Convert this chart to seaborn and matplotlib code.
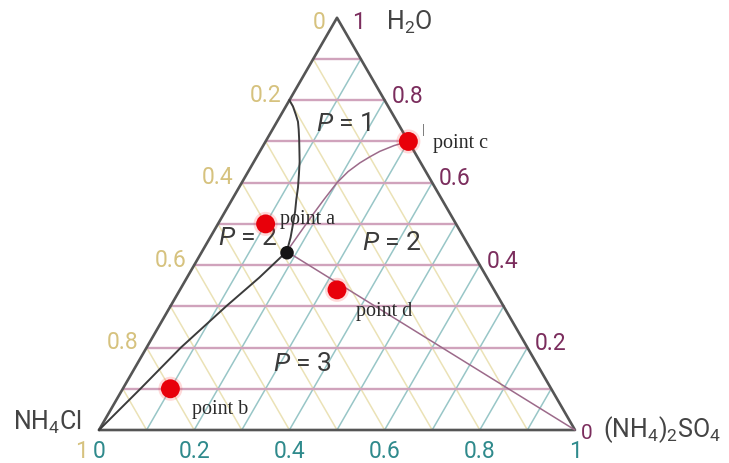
import numpy as np
import pandas as pd
import matplotlib
matplotlib.use("Agg")
import matplotlib.pyplot as plt
import seaborn as sns

# ---- data (mass fractions; NH4Cl = 1 - H2O - (NH4)2SO4) ----
point_names = ["point a", "point b", "point c", "point d"]
point_h2o = [0.50, 0.10, 0.70, 0.34]
point_as = [0.10, 0.10, 0.30, 0.33]

eutonic_h2o = [0.43]
eutonic_as = [0.18]

# liquidus of NH4Cl (from the binary H2O-NH4Cl edge to the eutonic point)
nh4cl_liq_h2o = [0.800, 0.785, 0.765, 0.748, 0.729, 0.705, 0.680, 0.651,
                 0.620, 0.588, 0.559, 0.530, 0.499, 0.467, 0.433]
nh4cl_liq_as = [0.000, 0.015, 0.031, 0.044, 0.055, 0.068, 0.081, 0.096,
                0.110, 0.124, 0.135, 0.147, 0.158, 0.169, 0.178]

# liquidus of (NH4)2SO4 (eutonic point to the H2O-(NH4)2SO4 edge)
as_liq_h2o = [0.433, 0.479, 0.523, 0.559, 0.600, 0.627, 0.648, 0.663,
              0.676, 0.690, 0.700]
as_liq_as = [0.178, 0.183, 0.188, 0.193, 0.200, 0.210, 0.224, 0.238,
             0.252, 0.275, 0.300]

# tie lines from the eutonic point to the pure solids
tie_cl_h2o = [0.00, 0.10, 0.20, 0.30, 0.37, 0.433]
tie_cl_as = [0.00, 0.037, 0.072, 0.117, 0.152, 0.178]
tie_as_h2o = [0.433, 0.00]
tie_as_as = [0.178, 1.00]

region_labels = ["P = 1", "P = 2", "P = 2", "P = 3"]
region_h2o = [0.745, 0.467, 0.455, 0.163]
region_as = [0.142, 0.079, 0.388, 0.346]

grid_fracs = [0.1, 0.2, 0.3, 0.4, 0.5, 0.6, 0.7, 0.8, 0.9]
tick_fracs = [0.0, 0.2, 0.4, 0.6, 0.8, 1.0]
tick_labels = ["0", "0.2", "0.4", "0.6", "0.8", "1"]

SQ = np.sqrt(3) / 2


def to_xy(h2o, am_sulf):
    h = np.asarray(h2o, dtype=float)
    s = np.asarray(am_sulf, dtype=float)
    return s + h / 2, h * SQ


sns.set_theme(style="white")
plt.rcParams["font.family"] = ["Roboto", "DejaVu Sans"]
plt.rcParams["mathtext.fontset"] = "custom"
plt.rcParams["mathtext.rm"] = "Roboto"
plt.rcParams["mathtext.it"] = "Roboto:italic"

fig = plt.figure(figsize=(7.29, 4.64), dpi=100)
ax = fig.add_axes([0, 0, 1, 1])
ax.set_xlim(-99 / 476, 630 / 476)
ax.set_ylim(-33 / 476, 431 / 476)
ax.axis("off")

C_CL = "#d6c27e"     # NH4Cl axis
C_H2O = "#7b2d5d"    # H2O axis
C_AS = "#2f8a8c"     # (NH4)2SO4 axis
C_EDGE = "#555555"
C_TXT = "#444444"
TICK_FS = 16.5


def grid_frame(kind):
    rows = []
    for i, f in enumerate(grid_fracs):
        if kind == "h2o":
            hs = [f, f]; ss = [0.0, 1 - f]
        elif kind == "as":
            hs = [0.0, 1 - f]; ss = [f, f]
        else:  # constant NH4Cl
            hs = [1 - f, 0.0]; ss = [0.0, 1 - f]
        x, y = to_xy(hs, ss)
        for xx, yy in zip(x, y):
            rows.append({"id": i, "x": xx, "y": yy})
    return pd.DataFrame(rows)


for kind, col, lw in [("cl", "#ebe2b6", 1.1), ("as", "#98c6c7", 1.1),
                      ("h2o", "#d0a3bc", 1.7)]:
    sns.lineplot(data=grid_frame(kind), x="x", y="y", units="id",
                 estimator=None, sort=False, color=col, linewidth=lw,
                 ax=ax, legend=False)

# triangle outline
ex, ey = to_xy([0, 0, 1, 0], [0, 1, 0, 0])
sns.lineplot(x=ex, y=ey, sort=False, estimator=None, color=C_EDGE,
             linewidth=1.9, ax=ax)

# phase boundaries
for hh, ss, col, lw in [(nh4cl_liq_h2o, nh4cl_liq_as, "#3b3b3b", 1.4),
                        (tie_cl_h2o, tie_cl_as, "#3b3b3b", 1.4),
                        (as_liq_h2o, as_liq_as, "#9c6a8a", 1.1),
                        (tie_as_h2o, tie_as_as, "#9c6a8a", 1.1)]:
    x, y = to_xy(hh, ss)
    sns.lineplot(x=x, y=y, sort=False, estimator=None, color=col,
                 linewidth=lw, ax=ax)

# eutonic point
x, y = to_xy(eutonic_h2o, eutonic_as)
sns.scatterplot(x=x, y=y, s=95, color="#151515", edgecolor="none",
                ax=ax, zorder=6)

# composition points with a soft halo
px, py = to_xy(point_h2o, point_as)
sns.scatterplot(x=px, y=py, s=300, color="#ff3030", alpha=0.18,
                edgecolor="none", ax=ax, zorder=6)
sns.scatterplot(x=px, y=py, s=185, color="#e8000a", edgecolor="none",
                ax=ax, zorder=7)

label_offsets = {"point a": (14, 1), "point b": (22, -24),
                 "point c": (25, -6), "point d": (19, -25)}
for name, x, y in zip(point_names, px, py):
    ax.annotate(name, (x, y), xytext=label_offsets[name],
                textcoords="offset pixels", ha="left", va="baseline",
                fontsize=14.5, family="Liberation Serif", color="#2a2a2a")
ax.annotate("|", (px[2], py[2]), xytext=(15, 12), textcoords="offset pixels",
            ha="center", va="center", fontsize=9,
            family="Liberation Serif", color="#333333")

# region labels
rx, ry = to_xy(region_h2o, region_as)
for lab, x, y in zip(region_labels, rx, ry):
    ax.text(x, y, lab.replace("P", "$P$", 1), ha="center", va="center",
            fontsize=19, color="#3a3a3a")

# axis tick labels
for f, lab in zip(tick_fracs, tick_labels):
    # NH4Cl along the left edge
    x, y = to_xy([1 - f], [0.0])
    if f == 1.0:
        ax.annotate(lab, (x[0], y[0]), xytext=(-11, -32.5),
                    textcoords="offset pixels", ha="right", va="bottom",
                    fontsize=TICK_FS, color=C_CL)
    else:
        off = (-12, -4) if f == 0.0 else (-8, 6)
        ax.annotate(lab, (x[0], y[0]), xytext=off, textcoords="offset pixels",
                    ha="right", va="center", fontsize=TICK_FS, color=C_CL)
    # H2O along the right edge (the 0 at the corner is set a little smaller)
    x, y = to_xy([f], [1 - f])
    off = {1.0: (15, -4), 0.0: (6, -3)}.get(f, (7, 5))
    fs = 15 if f == 0.0 else TICK_FS
    ax.annotate(lab, (x[0], y[0]), xytext=off, textcoords="offset pixels",
                ha="left", va="center", fontsize=fs, color=C_H2O)
    # (NH4)2SO4 along the base
    x, y = to_xy([0.0], [f])
    ax.annotate(lab, (x[0], y[0]), xytext=(0, -32.5),
                textcoords="offset pixels", ha="center", va="bottom",
                fontsize=TICK_FS, color=C_AS)

# vertex (component) labels
vx, vy = to_xy([1, 0, 0], [0, 0, 1])
ax.annotate("H$_2$O", (vx[0], vy[0]), xytext=(49, -11),
            textcoords="offset pixels", ha="left", va="baseline",
            fontsize=18, color=C_TXT)
ax.annotate("NH$_4$Cl", (vx[1], vy[1]), xytext=(-17, 1),
            textcoords="offset pixels", ha="right", va="baseline",
            fontsize=18, color=C_TXT)
ax.annotate("(NH$_4$)$_2$SO$_4$", (vx[2], vy[2]), xytext=(28, -6),
            textcoords="offset pixels", ha="left", va="baseline",
            fontsize=18, color=C_TXT)

fig.savefig("out.png", dpi=100)
